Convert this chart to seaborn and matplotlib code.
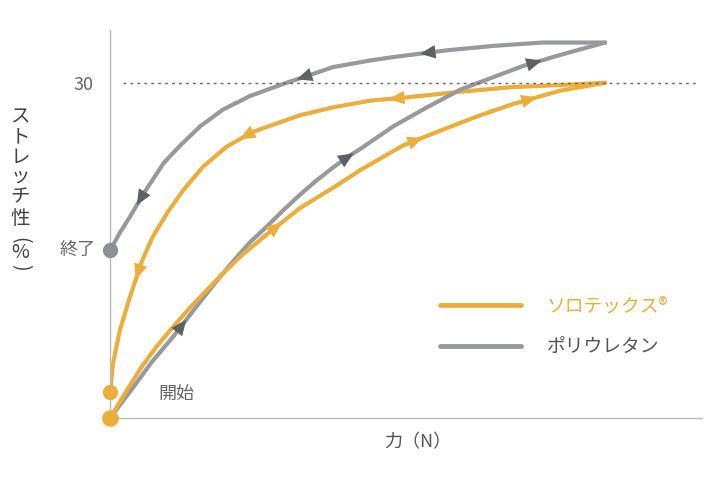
import matplotlib
matplotlib.use('Agg')
import matplotlib.pyplot as plt
from matplotlib.lines import Line2D
import pandas as pd
import seaborn as sns

# stretch (%) vs force (N), hysteresis loops
gray_up_x = [0, 2.3, 4.2, 6.3, 9.1, 10.8, 12.4, 14.1, 15.9, 17.5, 19.2, 20.9, 22.5, 23.9,
             25.3, 28.6, 32.0, 35.4, 38.7, 41.7, 45.5, 50]
gray_up_y = [0, 2.7, 5.0, 7.2, 10.4, 12.3, 14.0, 15.7, 17.2, 18.6, 20.0, 21.3, 22.4, 23.3,
             24.1, 26.1, 27.8, 29.4, 30.5, 31.5, 32.5, 33.6]
gray_down_x = [50, 43.7, 38.7, 34.0, 28.6, 26.3, 22.5, 20.2, 17.5, 14.1, 11.4, 9.1, 7.1,
               5.4, 3.4, 2.0, 1.0, 0]
gray_down_y = [33.6, 33.6, 33.3, 32.9, 32.3, 32.0, 31.4, 30.7, 29.9, 28.8, 27.6, 26.1, 24.4,
               22.8, 20.1, 18.0, 16.6, 15.0]

orange_up_x = [0, 1.7, 3.2, 4.7, 6.4, 8.1, 10.8, 13.1, 15.5, 19.2, 22.7, 25.3, 29.6, 33.6,
               37.1, 40.7, 45.5, 50]
orange_up_y = [0, 2.5, 4.6, 6.4, 8.2, 9.9, 12.4, 14.4, 16.2, 18.8, 20.7, 22.2, 24.4, 25.8,
               27.0, 28.1, 29.3, 30.0]
orange_down_x = [50, 45.5, 40.4, 35.4, 30.0, 26.3, 22.5, 19.2, 14.4, 11.8, 9.4, 7.4, 5.8,
                 4.3, 3.2, 2.0, 1.0, 0.3, 0]
orange_down_y = [30.0, 29.8, 29.6, 29.2, 28.7, 28.4, 27.8, 27.1, 25.6, 24.3, 22.5, 20.4, 18.4,
                 16.2, 14.0, 10.8, 7.9, 4.9, 2.3]

# where the direction arrows sit (index into each curve)
gray_up_arrows = [3, 13, 19]
gray_down_arrows = [3, 7, 14]
orange_up_arrows = [8, 12, 15]
orange_down_arrows = [4, 8, 14]

labels = ['ソロテックス®', 'ポリウレタン']
ref_y = 30

ORANGE = '#EBAE3C'
GRAY = '#98999D'
GRAY_DARK = '#5E6266'
TEXT = '#555555'

sns.set_style('white')
plt.rcParams['font.family'] = ['Noto Sans CJK JP', 'DejaVu Sans']

fig = plt.figure(figsize=(7.1, 4.8), dpi=100)
ax = fig.add_axes([0.155, 0.129, 0.834, 0.808])


def curve(xs, ys, color):
    df = pd.DataFrame({'force': xs, 'stretch': ys})
    sns.lineplot(data=df, x='force', y='stretch', sort=False, estimator=None,
                 color=color, lw=3, ax=ax, solid_capstyle='round',
                 solid_joinstyle='round')


def arrows(xs, ys, idx, color):
    for i in idx:
        x0, y0 = xs[i], ys[i]
        x1, y1 = xs[i + 1], ys[i + 1]
        tip = (x0 + 0.5 * (x1 - x0), y0 + 0.5 * (y1 - y0))
        ax.annotate('', xy=tip, xytext=(x0, y0),
                    arrowprops=dict(arrowstyle='-|>,head_length=0.8,head_width=0.35',
                                    color=color, lw=0, shrinkA=0, shrinkB=0,
                                    mutation_scale=14))


curve(gray_down_x, gray_down_y, GRAY)
curve(orange_down_x, orange_down_y, ORANGE)
curve(gray_up_x, gray_up_y, GRAY)
curve(orange_up_x, orange_up_y, ORANGE)

arrows(gray_up_x, gray_up_y, gray_up_arrows, GRAY_DARK)
arrows(gray_down_x, gray_down_y, gray_down_arrows, GRAY_DARK)
arrows(orange_up_x, orange_up_y, orange_up_arrows, ORANGE)
arrows(orange_down_x, orange_down_y, orange_down_arrows, ORANGE)

# end / start dots
ax.plot(gray_down_x[-1], gray_down_y[-1], 'o', ms=10, color='#8E9094', clip_on=False, zorder=5)
ax.plot(orange_down_x[-1], orange_down_y[-1], 'o', ms=10, color=ORANGE, clip_on=False, zorder=5)
ax.plot(orange_up_x[0], orange_up_y[0], 'o', ms=11, color=ORANGE, clip_on=False, zorder=6)

ax.hlines(ref_y, 1.3, 59.5, colors='#666666', linestyles=(0, (2, 3)), lw=1)

ax.set_xlim(0, 59.8)
ax.set_ylim(0, 34.7)
ax.set_xticks([])
ax.set_yticks([ref_y])
ax.set_yticklabels([str(ref_y)])
ax.tick_params(axis='y', length=0, pad=12, labelsize=13, labelcolor='#666666')
for s in ['top', 'right']:
    ax.spines[s].set_visible(False)
for s in ['left', 'bottom']:
    ax.spines[s].set_color('#BBBBBB')
    ax.spines[s].set_linewidth(1)

ax.set_xlabel('力（N）', fontsize=13, color=TEXT)
ax.xaxis.label.set_va('center')
ax.xaxis.set_label_coords(0.519, -0.062)
ax.set_ylabel('')

ax.text(-1.5, gray_down_y[-1], '終了', ha='right', va='center', fontsize=13, color='#666666')
ax.text(6.7, 2.2, '開始', ha='center', va='center', fontsize=13, color='#666666')

# vertical y label, upright characters, parentheses turned
ylab = ['ス', 'ト', 'レ', 'ッ', 'チ', '性', '(', '%', ')']
ylab_pos = [117, 137, 157, 176, 197, 218, 240, 253, 267]
for ch, py in zip(ylab, ylab_pos):
    rot = -90 if ch in '()' else 0
    fig.text(20 / 710, 1 - py / 480, ch, ha='center', va='center', fontsize=14,
             color='#444444', rotation=rot)

handles = [Line2D([], [], color=ORANGE, lw=3.5), Line2D([], [], color=GRAY, lw=3.5)]
leg = ax.legend(handles, labels, loc='center', bbox_to_anchor=(0.75, 0.236),
                frameon=False, fontsize=13.5, handlelength=4.3, handletextpad=1.4,
                labelspacing=1.1)
leg.get_texts()[0].set_color(ORANGE)
leg.get_texts()[1].set_color(TEXT)

fig.savefig('out.png', dpi=100)
